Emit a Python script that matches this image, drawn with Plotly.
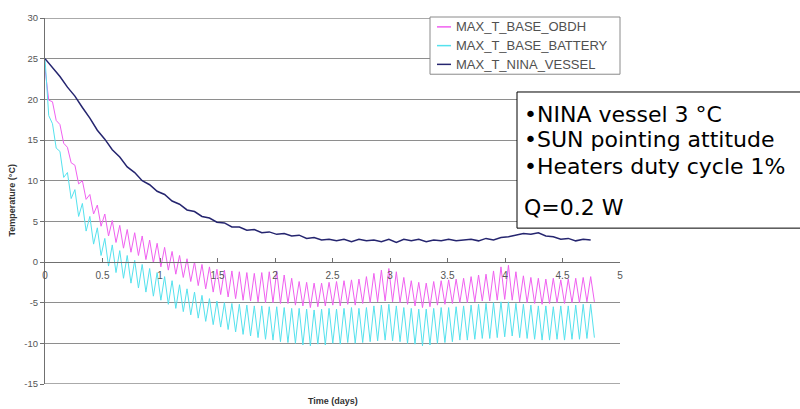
import plotly.graph_objects as go

# ---- data -------------------------------------------------------------
# orbit start times (days)
orbit_t = [
    0.000, 0.065, 0.130, 0.195, 0.260, 0.325, 0.390, 0.455, 0.520, 0.585,
    0.650, 0.715, 0.780, 0.845, 0.910, 0.975, 1.040, 1.105, 1.170, 1.235,
    1.300, 1.365, 1.430, 1.495, 1.560, 1.625, 1.690, 1.755, 1.820, 1.885,
    1.950, 2.015, 2.080, 2.145, 2.210, 2.275, 2.340, 2.405, 2.470, 2.535,
    2.600, 2.665, 2.730, 2.795, 2.860, 2.925, 2.990, 3.055, 3.120, 3.185,
    3.250, 3.315, 3.380, 3.445, 3.510, 3.575, 3.640, 3.705, 3.770, 3.835,
    3.900, 3.965, 4.030, 4.095, 4.160, 4.225, 4.290, 4.355, 4.420, 4.485,
    4.550, 4.615, 4.680, 4.745,
]

# OBDH base plate: per-orbit maximum and minimum (deg C)
obdh_hi = [
    23.8, 19.7, 16.9, 14.1, 11.9, 10.0, 8.3, 7.0, 5.9, 5.1,
    4.5, 4.0, 3.6, 3.2, 2.7, 2.3, 1.8, 1.3, 0.8, 0.4,
    0.0, -0.3, -0.6, -0.9, -1.0, -1.1, -1.2, -1.3, -1.4, -1.3,
    -1.2, -1.1, -1.6, -2.0, -2.4, -2.5, -2.6, -2.6, -2.5, -2.4,
    -2.3, -2.2, -2.1, -1.8, -1.4, -1.0, -0.8, -1.2, -1.9, -2.3,
    -2.5, -2.6, -2.4, -2.3, -2.2, -2.1, -2.0, -1.8, -1.6, -1.5,
    -1.1, -0.6, -0.4, -1.2, -1.7, -1.9, -2.0, -2.1, -2.0, -2.2,
    -2.1, -2.0, -1.9, -1.8,
]
obdh_lo = [
    19.9, 17.4, 14.6, 12.2, 9.6, 7.7, 5.9, 4.4, 3.2, 2.4,
    1.7, 1.2, 0.8, 0.3, -0.1, -0.6, -1.0, -1.5, -1.9, -2.4,
    -2.9, -3.3, -3.7, -4.0, -4.3, -4.5, -4.7, -4.8, -4.9, -5.0,
    -5.0, -5.1, -5.1, -5.3, -5.4, -5.6, -5.5, -5.4, -5.3, -5.4,
    -5.2, -5.3, -5.1, -5.0, -4.9, -4.8, -4.9, -5.0, -5.2, -5.4,
    -5.6, -5.5, -5.3, -5.2, -5.1, -5.0, -5.0, -4.9, -4.8, -4.8,
    -4.7, -4.6, -4.7, -4.9, -5.0, -5.1, -5.2, -5.1, -5.0, -5.1,
    -5.0, -5.0, -4.9, -4.9,
]

# battery base plate: per-orbit maximum and minimum (deg C)
batt_hi = [
    25.0, 17.0, 13.6, 11.0, 8.9, 7.2, 5.6, 4.2, 2.9, 2.1,
    1.4, 0.8, 0.2, -0.3, -0.8, -1.3, -1.8, -2.3, -2.8, -3.3,
    -3.7, -4.1, -4.5, -4.8, -5.0, -5.1, -5.2, -5.3, -5.4, -5.4,
    -5.5, -5.5, -5.6, -5.7, -5.7, -5.8, -5.9, -5.8, -5.7, -5.8,
    -5.7, -5.6, -5.7, -5.6, -5.4, -5.3, -5.2, -5.4, -5.6, -5.7,
    -5.8, -5.8, -5.7, -5.6, -5.6, -5.5, -5.4, -5.3, -5.2, -5.1,
    -5.0, -4.9, -4.9, -5.1, -5.2, -5.3, -5.4, -5.4, -5.5, -5.4,
    -5.4, -5.3, -5.2, -5.2,
]
batt_lo = [
    18.0, 14.0, 10.4, 7.8, 5.6, 3.8, 2.2, 0.8, -0.5, -1.3,
    -2.0, -2.6, -3.2, -3.7, -4.2, -4.7, -5.2, -5.7, -6.1, -6.5,
    -6.9, -7.3, -7.7, -8.0, -8.3, -8.6, -8.9, -9.1, -9.3, -9.5,
    -9.6, -9.8, -9.9, -10.0, -10.2, -10.3, -10.1, -10.2, -10.0, -10.1,
    -9.9, -10.0, -9.9, -9.8, -9.7, -9.6, -9.7, -9.8, -10.0, -10.1,
    -10.3, -10.2, -10.0, -9.9, -9.8, -9.6, -9.6, -9.5, -9.4, -9.4,
    -9.3, -9.2, -9.1, -9.3, -9.4, -9.5, -9.6, -9.6, -9.5, -9.6,
    -9.5, -9.5, -9.4, -9.3,
]

# NINA vessel temperature at each orbit start (deg C)
nina = [
    25.0, 23.9, 22.8, 21.5, 20.4, 19.0, 17.7, 16.2, 15.1, 13.8,
    12.9, 11.7, 11.0, 10.0, 9.5, 8.7, 8.3, 7.5, 7.1, 6.4,
    6.2, 5.6, 5.4, 4.9, 4.8, 4.3, 4.3, 3.9, 4.0, 3.6,
    3.7, 3.4, 3.5, 3.2, 3.3, 2.9, 3.0, 2.7, 2.8, 2.6,
    2.8, 2.5, 2.8, 2.6, 2.7, 2.5, 2.8, 2.4, 2.8, 2.6,
    2.8, 2.5, 2.7, 2.6, 2.8, 2.6, 2.7, 2.8, 2.6, 2.9,
    2.7, 3.0, 3.1, 3.3, 3.5, 3.4, 3.6, 3.2, 3.1, 2.8,
    2.9, 2.6, 2.8, 2.7,
]

series_names = ["MAX_T_BASE_OBDH", "MAX_T_BASE_BATTERY", "MAX_T_NINA_VESSEL"]

x_tick_vals = [0, 0.5, 1, 1.5, 2, 2.5, 3, 3.5, 4, 4.5, 5]
x_tick_text = ["0", "0.5", "1", "1.5", "2", "2.5", "3", "3.5", "4", "4.5", "5"]
y_tick_vals = [-15, -10, -5, 0, 5, 10, 15, 20, 25, 30]
y_tick_text = ["-15", "-10", "-5", "0", "5", "10", "15", "20", "25", "30"]

notes = ["•NINA vessel 3 °C", "•SUN pointing attitude",
         "•Heaters duty cycle 1%", "Q=0.2 W"]

# ---- styling ----------------------------------------------------------
COLORS = ["#f060f0", "#55e2ee", "#25256f"]
FONT = "Liberation Sans, Arial, sans-serif"
NOTE_FONT = "DejaVu Sans, Liberation Sans, sans-serif"
GRID = "#8e8e8e"

W, H = 800, 409
ML, MR, MT, MB = 45, 180, 13, 25
PW, PH = W - ML - MR, H - MT - MB
Y_RANGE = [-15, 30]


def px(x):
    """pixel column -> paper x"""
    return (x - ML) / PW


def py(y):
    """pixel row -> paper y"""
    return (MT + PH - y) / PH


def zigzag(t, hi, lo, half=0.0325):
    """each orbit: maximum at its start, minimum half an orbit later"""
    xs, ys = [], []
    for ti, h, l in zip(t, hi, lo):
        xs += [ti, ti + half]
        ys += [h, l]
    return xs, ys


fig = go.Figure()

ox, oy = zigzag(orbit_t, obdh_hi, obdh_lo)
bx, by = zigzag(orbit_t, batt_hi, batt_lo)

fig.add_trace(go.Scatter(x=ox, y=oy, mode="lines", name=series_names[0],
                         line=dict(color=COLORS[0], width=1)))
fig.add_trace(go.Scatter(x=bx, y=by, mode="lines", name=series_names[1],
                         line=dict(color=COLORS[1], width=1)))
fig.add_trace(go.Scatter(x=orbit_t, y=nina, mode="lines", name=series_names[2],
                         line=dict(color=COLORS[2], width=1.5)))

shapes = []
annotations = []

# gridlines on the outer ticks (top and bottom of the plot area)
for yv in (Y_RANGE[0], Y_RANGE[1]):
    shapes.append(dict(type="line", xref="paper", yref="y",
                       x0=0, x1=1, y0=yv, y1=yv,
                       line=dict(color=GRID, width=1.4), layer="below"))

# legend box
shapes.append(dict(type="rect", xref="paper", yref="paper",
                   x0=px(430), x1=px(620), y0=py(70), y1=py(12),
                   line=dict(color="#8a8a8a", width=1), fillcolor="white",
                   layer="above"))
for i, (name, col) in enumerate(zip(series_names, COLORS)):
    yy = 22 + i * 19
    shapes.append(dict(type="line", xref="paper", yref="paper",
                       x0=px(437), x1=px(451), y0=py(yy), y1=py(yy),
                       line=dict(color=col, width=1.5), layer="above"))
    annotations.append(dict(text=name, xref="paper", yref="paper",
                            x=px(455), y=py(yy), xanchor="left", yanchor="middle",
                            showarrow=False, borderpad=0,
                            font=dict(family=FONT, size=13, color="#505050")))

# notes box
shapes.append(dict(type="rect", xref="paper", yref="paper",
                   x0=px(517), x1=px(815), y0=py(226), y1=py(88),
                   line=dict(color="black", width=1), fillcolor="white",
                   layer="above"))
for text, yy in zip(notes, [110.5, 136.5, 163.5, 205]):
    annotations.append(dict(text=text, xref="paper", yref="paper",
                            x=px(523), y=py(yy), xanchor="left", yanchor="middle",
                            showarrow=False, borderpad=0,
                            font=dict(family=NOTE_FONT, size=22, color="black")))

# axis titles
annotations.append(dict(text="<b>Time (days)</b>", xref="paper", yref="paper",
                        x=px(333), y=py(401), xanchor="center", yanchor="middle",
                        showarrow=False,
                        font=dict(family=FONT, size=9, color="#333333")))
annotations.append(dict(text="<b>Temperature (°C)</b>", xref="paper", yref="paper",
                        x=px(12), y=py(198), xanchor="center", yanchor="middle",
                        textangle=-90, showarrow=False,
                        font=dict(family=FONT, size=9, color="#333333")))

fig.update_layout(
    width=W, height=H,
    margin=dict(l=ML, r=MR, t=MT, b=MB),
    paper_bgcolor="white", plot_bgcolor="white",
    showlegend=False,
    shapes=shapes, annotations=annotations,
    xaxis=dict(range=[0, 5], anchor="free",
               position=(0 - Y_RANGE[0]) / (Y_RANGE[1] - Y_RANGE[0]),
               showline=True, linecolor="#707070", linewidth=1,
               ticks="inside", ticklen=4, tickcolor="#707070",
               tickvals=x_tick_vals, ticktext=x_tick_text,
               ticklabelstandoff=4,
               tickfont=dict(family=FONT, size=10, color="#555555"),
               showgrid=False, zeroline=False),
    yaxis=dict(range=Y_RANGE,
               showline=True, linecolor="#707070", linewidth=1,
               ticks="outside", ticklen=4, tickcolor="#707070",
               tickvals=y_tick_vals, ticktext=y_tick_text,
               tickfont=dict(family=FONT, size=9.5, color="#555555"),
               showgrid=True, gridcolor=GRID, gridwidth=1.4,
               zeroline=False),
)

fig.write_html("out.html")
